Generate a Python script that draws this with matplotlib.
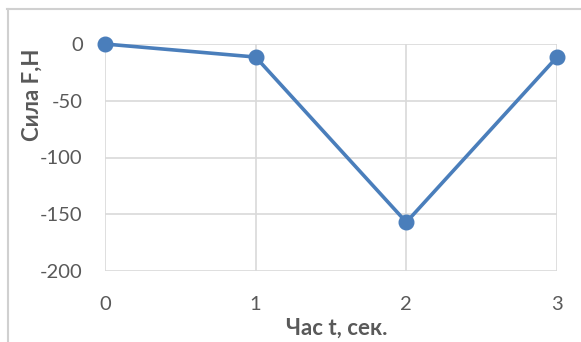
import matplotlib
matplotlib.use('Agg')
import matplotlib.pyplot as plt
from matplotlib.lines import Line2D

plt.rcParams['font.family'] = ['Lato', 'DejaVu Sans']
plt.rcParams['axes.unicode_minus'] = False

# time, s and force, N
time_s = [0, 1, 2, 3]
force_n = [0, -11.5, -157, -11.5]
y_ticks = [0, -50, -100, -150, -200]
x_ticks = [0, 1, 2, 3]

W, H = 581, 342
fig = plt.figure(figsize=(W / 100, H / 100), dpi=100)
ax = fig.add_axes([105 / W, 1 - 271 / H, (557 - 105) / W, (271 - 44) / H])

line_color = '#4a7ebb'
ax.plot(time_s, force_n, color=line_color, linewidth=2.6, marker='o',
        markersize=10.5, markerfacecolor=line_color, markeredgecolor=line_color,
        clip_on=False, zorder=3)

ax.set_xlim(0, 3)
ax.set_ylim(-200, 0)
ax.set_xticks(x_ticks)
ax.set_yticks(y_ticks)
ax.grid(True, color='#d9d9d9', linewidth=1.2)
for s in ax.spines.values():
    s.set_visible(False)
ax.tick_params(length=0, labelsize=14.5, colors='#595959')
ax.tick_params(axis='x', pad=18)
ax.tick_params(axis='y', pad=16)

# axis titles
fig.text(32 / W, 1 - 95 / H, 'Сила F,Н', rotation=90, ha='center', va='center',
         fontsize=16, fontweight='bold', color='#595959')
fig.text(337 / W, 1 - 328 / H, 'Час t, сек.', ha='center', va='center',
         fontsize=16, fontweight='bold', color='#595959')

# chart frame (partly cut off)
fig.add_artist(Line2D([7 / W, 1], [1 - 9 / H, 1 - 9 / H], color='#d0d0d0', linewidth=1.5))
fig.add_artist(Line2D([8 / W, 8 / W], [1 - 9 / H, 0], color='#d0d0d0', linewidth=1.5))

fig.savefig('out.png', dpi=100)
